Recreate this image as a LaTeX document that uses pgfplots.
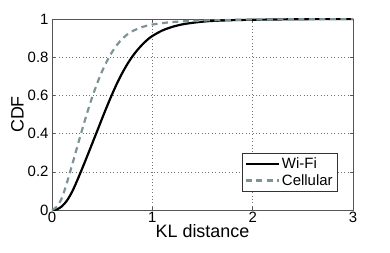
\documentclass[border=0pt]{standalone}
\usepackage{fontspec}
\setmainfont{Liberation Sans}
\usepackage{pgfplots}
\pgfplotsset{compat=1.18}
\definecolor{cellc}{HTML}{7C9496}
\definecolor{axc}{HTML}{555555}
\begin{document}
\begin{tikzpicture}
\begin{axis}[
  scale only axis,
  width=301bp, height=191bp,
  xmin=0, xmax=3, ymin=0, ymax=1,
  xtick={0,1,2,3}, ytick={0,0.2,0.4,0.6,0.8,1},
  yticklabels={0,0.2,0.4,0.6,0.8,1},
  xticklabels={0,1,2,3},
  grid=major,
  major grid style={black!55, line width=0.6pt, dash pattern=on 0.8bp off 2.6bp},
  axis line style={axc, line width=0.8pt},
  tick style={axc, line width=0.6pt},
  tick align=inside,
  major tick length=3bp,
  ticklabel style={font=\fontsize{15}{17}\selectfont},
  xlabel={KL distance}, ylabel={CDF},
  label style={font=\fontsize{18}{20}\selectfont},
  xlabel style={yshift=5bp},
  ylabel style={yshift=-3bp},
  xticklabel style={yshift=1bp},
  legend style={at={(axis cs:2.85,0.094)}, anchor=south east,
    font=\fontsize{15}{17}\selectfont, draw=black!80, line width=0.6pt,
    inner xsep=3bp, inner ysep=3bp, row sep=0bp},
  legend cell align=left,
  legend image code/.code={\draw[#1] (0bp,0bp) -- (33bp,0bp);},
]
\addplot[black, line width=2.2pt, smooth, tension=0.5] coordinates {
(0,0) (0.05,0.003) (0.1,0.02) (0.15,0.05) (0.2,0.095) (0.25,0.153)
(0.3,0.216) (0.35,0.281) (0.4,0.347) (0.45,0.413) (0.5,0.48) (0.55,0.545)
(0.6,0.607) (0.65,0.665) (0.7,0.717) (0.75,0.763) (0.8,0.803) (0.85,0.837)
(0.9,0.866) (0.95,0.891) (1.0,0.911) (1.1,0.94) (1.2,0.959) (1.3,0.972)
(1.4,0.98) (1.5,0.986) (1.6,0.99) (1.8,0.994) (2.0,0.996) (2.5,0.999) (3,1)
};
\addlegendentry{Wi-Fi}
\addplot[cellc, line width=2.2pt, dash pattern=on 6bp off 4.5bp, smooth, tension=0.5] coordinates {
(0,0) (0.05,0.018) (0.1,0.065) (0.15,0.145) (0.2,0.235) (0.25,0.328)
(0.3,0.42) (0.35,0.508) (0.4,0.59) (0.45,0.663) (0.5,0.727) (0.55,0.782)
(0.6,0.828) (0.65,0.866) (0.7,0.896) (0.75,0.919) (0.8,0.936) (0.9,0.958)
(1.0,0.971) (1.2,0.984) (1.5,0.992) (2,0.997) (3,1)
};
\addlegendentry{Cellular}
\end{axis}
\path (current axis.south west) ++(-52bp,-43bp) rectangle ++(390bp,253bp);
\end{tikzpicture}
\end{document}
